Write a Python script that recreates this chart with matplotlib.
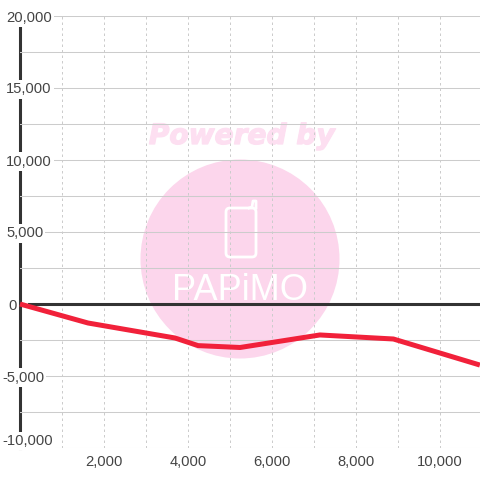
import matplotlib
matplotlib.use("Agg")
import matplotlib.pyplot as plt
import matplotlib.patheffects as pe
from matplotlib.patches import Circle, FancyBboxPatch
from matplotlib.ticker import MultipleLocator

plt.rcParams["font.family"] = ["Liberation Sans", "DejaVu Sans"]

# values
x_values = [0, 1620, 3690, 4240, 5240, 7140, 8890, 10950]
y_values = [0, -1320, -2360, -2890, -3020, -2150, -2430, -4240]
x_tick_values = [2000, 4000, 6000, 8000, 10000]
x_minor_values = [1000, 3000, 5000, 7000, 9000]
x_tick_labels = ["2,000", "4,000", "6,000", "8,000", "10,000"]
y_tick_values = [20000, 15000, 10000, 5000, 0, -5000, -10000]
y_tick_labels = ["20,000", "15,000", "10,000", "5,000", "0", "-5,000", "-10,000"]

GRID = "#cccccc"
DARK = "#333333"
TEXT = "#444444"
RED = "#f1213a"
PINK = "#fcd6ec"
PINK_TEXT = "#fddff1"

fig = plt.figure(figsize=(4.8, 4.8), dpi=100, facecolor="white")

# watermark sits under the chart, in pixel coordinates
wm = fig.add_axes([0, 0, 1, 1], zorder=0)
wm.set_xlim(0, 480)
wm.set_ylim(480, 0)
wm.axis("off")
wm.add_patch(Circle((240, 259), 99.5, fc=PINK, ec="none"))
wm.text(241.5, 136, "Powered by", color=PINK_TEXT, fontsize=20.2, fontweight="bold",
        fontstyle="italic", family="DejaVu Sans", ha="center", va="center",
        path_effects=[pe.withStroke(linewidth=0.9, foreground=PINK_TEXT)])
wm.add_patch(FancyBboxPatch((226, 208), 30, 49, boxstyle="round,pad=0,rounding_size=4",
                            fc="none", ec="white", lw=2))
wm.plot([249, 252, 253, 256, 256], [208, 207, 201, 201, 208], color="white", lw=2)
wm.text(240, 290, "PAPiMO", color="white", fontsize=26, family=["Liberation Sans"],
        ha="center", va="center")

ax = fig.add_axes([20 / 480, 32 / 480, 460 / 480, 432 / 480], zorder=1)
ax.patch.set_alpha(0)
ax.set_xlim(0, 460 / 0.042)
ax.set_ylim(-10000, 20000)
# axis after the spines, so the label boxes cut the axis line
ax.set_axisbelow(False)

for side in ["top", "right", "bottom"]:
    ax.spines[side].set_visible(False)
ax.spines["left"].set_color(DARK)
ax.spines["left"].set_linewidth(2.2)

ax.set_xticks(x_minor_values, minor=True)
ax.yaxis.set_minor_locator(MultipleLocator(2500))
ax.set_xticks(x_tick_values, x_tick_labels)
ax.set_yticks(y_tick_values, y_tick_labels)
ax.grid(True, axis="y", which="both", color=GRID, lw=0.75)
ax.grid(True, axis="x", which="both", color=GRID, lw=0.72, ls=(0, (2.5, 3)))
ax.tick_params(which="both", length=0)
ax.tick_params(axis="x", labelsize=10.6, labelcolor=TEXT, pad=5)
ax.tick_params(axis="y", labelsize=10.6, labelcolor=TEXT, pad=0)

# y labels are left aligned on top of the axis line, with a white box
for label, text in zip(ax.get_yticklabels(), y_tick_labels):
    start = 2 if text.startswith("-") else (8 if text == "0" else 6)
    label.set_ha("left")
    label.set_x((start - 20) / 460)
    label.set_bbox(dict(fc="white", ec="none", pad=1.5))
    if text == "-10,000":
        label.set_va("bottom")

ax.axhline(0, xmin=9 / 460, color=DARK, lw=2.2, zorder=3)
ax.plot(x_values, y_values, color=RED, lw=3.6, zorder=4, clip_on=False,
        solid_joinstyle="round", solid_capstyle="butt")

fig.savefig("out.png", dpi=100)
